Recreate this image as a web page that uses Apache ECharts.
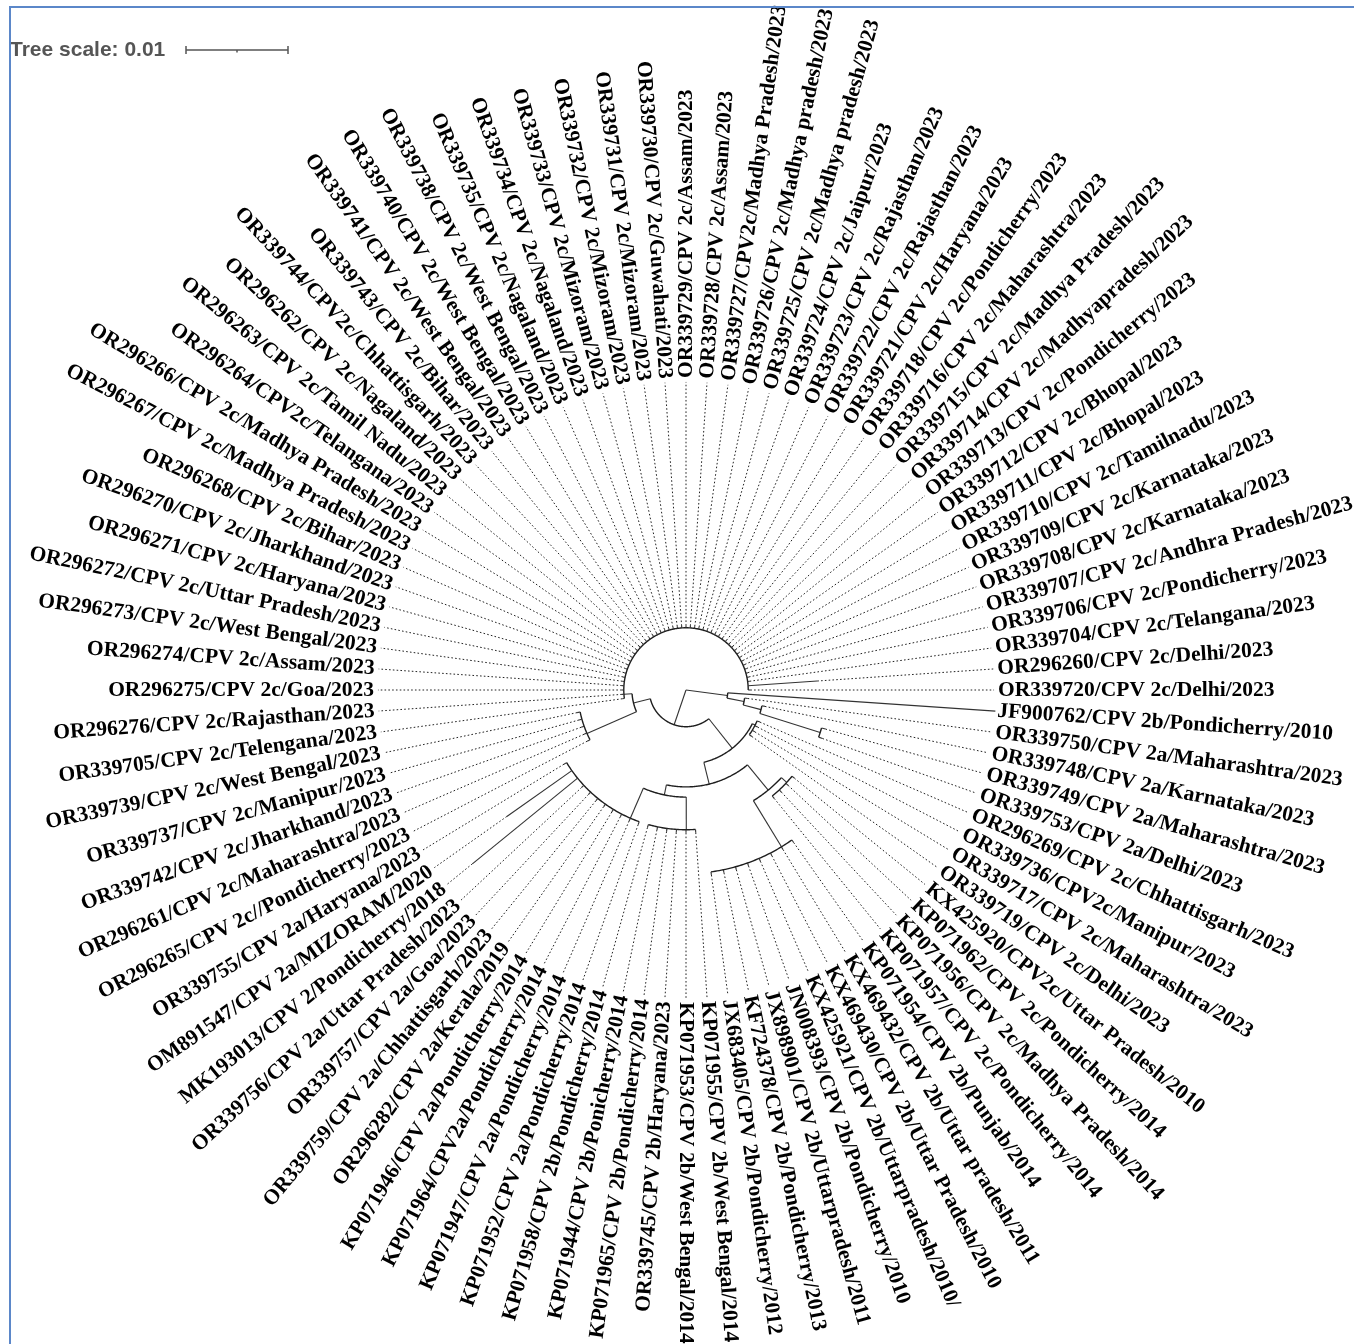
<!DOCTYPE html>
<html><head><meta charset="utf-8">
<script src="https://cdn.jsdelivr.net/npm/echarts/dist/echarts.min.js"></script>
<style>html,body{margin:0;padding:0;background:#fff}#c{width:1354px;height:1344px}</style>
</head><body><div id="c"></div>
<script>
// ---- leaves, clockwise from just below east (position 1..92) ----
const leafLabels = [
"JF900762/CPV 2b/Pondicherry/2010","OR339750/CPV 2a/Maharashtra/2023","OR339748/CPV 2a/Karnataka/2023",
"OR339749/CPV 2a/Maharashtra/2023","OR339753/CPV 2a/Delhi/2023","OR296269/CPV 2c/Chhattisgarh/2023",
"OR339736/CPV2c/Manipur/2023","OR339717/CPV 2c/Maharashtra/2023","OR339719/CPV 2c/Delhi/2023",
"KX425920/CPV2c/Uttar Pradesh/2010","KP071962/CPV 2c/Pondicherry/2014","KP071956/CPV 2c/Madhya Pradesh/2014",
"KP071957/CPV 2c/Pondicherry/2014","KP071954/CPV 2b/Punjab/2014","KX469432/CPV 2b/Uttar pradesh/2011",
"KX469430/CPV 2b/Uttar Pradesh/2010","KX425921/CPV 2b/Uttarpradesh/2010/","JN008393/CPV 2b/Pondicherry/2010",
"JX898901/CPV 2b/Uttarpradesh/2011","KF724378/CPV 2b/Pondicherry/2013","JX683405/CPV 2b/Pondicherry/2012",
"KP071955/CPV 2b/West Bengal/2014","KP071953/CPV 2b/West Bengal/2014","OR339745/CPV 2b/Haryana/2023",
"KP071965/CPV 2b/Pondicherry/2014","KP071944/CPV 2b/Ponicherry/2014","KP071958/CPV 2b/Pondicherry/2014",
"KP071952/CPV 2a/Pondicherry/2014","KP071947/CPV 2a/Pondicherry/2014","KP071964/CPV2a/Pondicherry/2014",
"KP071946/CPV 2a/Pondicherry/2014","OR296282/CPV 2a/Kerala/2019","OR339759/CPV 2a/Chhattisgarh/2023",
"OR339757/CPV 2a/Goa/2023","OR339756/CPV 2a/Uttar Pradesh/2023","MK193013/CPV 2/Pondicherry/2018",
"OM891547/CPV 2a/MIZORAM/2020","OR339755/CPV 2a/Haryana/2023","OR296265/CPV 2c//Pondicherry/2023",
"OR296261/CPV 2c/Maharashtra/2023","OR339742/CPV 2c/Jharkhand/2023","OR339737/CPV 2c/Manipur/2023",
"OR339739/CPV 2c/West Bengal/2023","OR339705/CPV 2c/Telengana/2023","OR296276/CPV 2c/Rajasthan/2023",
"OR296275/CPV 2c/Goa/2023","OR296274/CPV 2c/Assam/2023","OR296273/CPV 2c/West Bengal/2023",
"OR296272/CPV 2c/Uttar Pradesh/2023","OR296271/CPV 2c/Haryana/2023","OR296270/CPV 2c/Jharkhand/2023",
"OR296268/CPV 2c/Bihar/2023","OR296267/CPV 2c/Madhya Pradesh/2023","OR296266/CPV 2c/Madhya Pradesh/2023",
"OR296264/CPV2c/Telangana/2023","OR296263/CPV 2c/Tamil Nadu/2023","OR296262/CPV 2c/Nagaland/2023",
"OR339744/CPV2c/Chhattisgarh/2023","OR339743/CPV 2c/Bihar/2023","OR339741/CPV 2c/West Bengal/2023",
"OR339740/CPV 2c/West Bengal/2023","OR339738/CPV 2c/West Bengal/2023","OR339735/CPV 2c/Nagaland/2023",
"OR339734/CPV 2c/Nagaland/2023","OR339733/CPV 2c/Mizoram/2023","OR339732/CPV 2c/Mizoram/2023",
"OR339731/CPV 2c/Mizoram/2023","OR339730/CPV 2c/Guwahati/2023","OR339729/CPV 2c/Assam/2023",
"OR339728/CPV 2c/Assam/2023","OR339727/CPV2c/Madhya Pradesh/2023","OR339726/CPV 2c/Madhya pradesh/2023",
"OR339725/CPV 2c/Madhya pradesh/2023","OR339724/CPV 2c/Jaipur/2023","OR339723/CPV 2c/Rajasthan/2023",
"OR339722/CPV 2c/Rajasthan/2023","OR339721/CPV 2c/Haryana/2023","OR339718/CPV 2c/Pondicherry/2023",
"OR339716/CPV 2c/Maharashtra/2023","OR339715/CPV 2c/Madhya Pradesh/2023","OR339714/CPV 2c/Madhyapradesh/2023",
"OR339713/CPV 2c/Pondicherry/2023","OR339712/CPV 2c/Bhopal/2023","OR339711/CPV 2c/Bhopal/2023",
"OR339710/CPV 2c/Tamilnadu/2023","OR339709/CPV 2c/Karnataka/2023","OR339708/CPV 2c/Karnataka/2023",
"OR339707/CPV 2c/Andhra Pradesh/2023","OR339706/CPV 2c/Pondicherry/2023","OR339704/CPV 2c/Telangana/2023",
"OR296260/CPV 2c/Delhi/2023","OR339720/CPV 2c/Delhi/2023"
];

// ---- internal nodes (branch lengths in substitutions/site) ----
const nodeIds    = ['root','L1','L2','L3','L4','N1','N9','N7','N10','N2','G7','N3','N4','G14','N5','N8','G2b','N6'];
const nodeParent = [null,'root','L1','L2','L3','root','N1','N9','N9','N1','N2','N2','N3','N4','N4','N3','N8','N8'];
const nodeBranch = [0,0.0041,0.0017,0.0018,0.0062,0.0036,0.0017,0.0053,0.0008,0.0037,0.0003,0.0022,0.0032,0.0007,0.0053,0.0010,0.0032,0.0032];
// clades resolved as ladders (zero-length internal edges), which sets where their stem attaches
const combNodes = ['N7','N10','G7','G14','N5','G2b','N6'];

// ---- parent node and branch length of each leaf ----
const leafParent = [
'L1','L2','L3','L4','L4','G7','G7','G7','G7',
'G14','G14','G14','G14',
'N5','N5','N5','N5','N5','N5','N5','N5',
'G2b','G2b','G2b','G2b','G2b','G2b',
'N6','N6','N6','N6','N6','N6','N6','N6','N6','N6','N6',
'N7','N7','N7','N7','N7'
].concat(new Array(49).fill('N10'));
const leafBranch = [
0.0263,0.0003,0.0003,0.0004,0.0004,0.0003,0.0003,0.0003,0.0003,
0.0003,0.0003,0.0003,0.0003,
0.0003,0.0003,0.0003,0.0003,0.0003,0.0003,0.0003,0.0003,
0.0003,0.0003,0.0003,0.0003,0.0003,0.0003,
0.0003,0.0003,0.0003,0.0003,0.0003,0.0003,0.0003,0.0003,0.0133,0.0078,0.0003,
0.0003,0.0003,0.0003,0.0003,0.0003
].concat(new Array(47).fill(0.0002), [0.0068, 0.0002]);

const scaleValue = 0.01;           // tree scale bar
const labelGap = 0.0002;           // label starts just beyond longest tip

// ---- build geometry from tree arrays ----
const N = leafLabels.length;
const depth = {}, angle = {}, kids = {};
nodeIds.forEach(id => kids[id] = []);
nodeIds.forEach((id, i) => { if (nodeParent[i]) kids[nodeParent[i]].push({type:'node', id}); });
leafLabels.forEach((l, i) => kids[leafParent[i]].push({type:'leaf', i}));
function setDepth(id, d) {
  depth[id] = d;
  kids[id].forEach(k => {
    if (k.type === 'node') setDepth(k.id, d + nodeBranch[nodeIds.indexOf(k.id)]);
  });
}
setDepth('root', 0);
const leafDepth = leafLabels.map((l, i) => depth[leafParent[i]] + leafBranch[i]);
const leafAngle = leafLabels.map((l, i) => i + 1);
function childAngle(k) { return k.type === 'leaf' ? leafAngle[k.i] : angle[k.id]; }
function setAngle(id) {
  kids[id].forEach(k => { if (k.type === 'node') setAngle(k.id); });
  const as = kids[id].map(childAngle).sort((a, b) => a - b);
  if (combNodes.indexOf(id) >= 0) {
    let A = as[as.length - 1];
    for (let k = as.length - 2; k >= 0; k--) A = (as[k] + A) / 2;
    angle[id] = A;
  } else angle[id] = (as[0] + as[as.length - 1]) / 2;
}
setAngle('root');
const maxTip = Math.max(...leafDepth);
const labelR = maxTip + labelGap;

const segs = []; // [kind, r0, r1, a0, a1]  kind 0 radial, 1 arc, 2 dotted
nodeIds.forEach(id => {
  const as = kids[id].map(childAngle);
  if (as.length > 1 && depth[id] > 0) segs.push([1, depth[id], depth[id], Math.min(...as), Math.max(...as)]);
  kids[id].forEach(k => {
    if (k.type === 'node') segs.push([0, depth[id], depth[k.id], angle[k.id], angle[k.id]]);
    else {
      segs.push([0, depth[id], leafDepth[k.i], leafAngle[k.i], leafAngle[k.i]]);
      if (labelR - 0.0004 - leafDepth[k.i] > 0.0002)
        segs.push([2, leafDepth[k.i], labelR - 0.0004, leafAngle[k.i], leafAngle[k.i]]);
    }
  });
});
const labelData = leafLabels.map((l, i) => [labelR, leafAngle[i], i]);

const chart = echarts.init(document.getElementById('c'), null, {renderer: 'canvas'});
const PX = 10200; // pixels per unit at polar radius 700
chart.setOption({
  animation: false,
  backgroundColor: '#fff',
  polar: { center: [686, 690], radius: 700 },
  angleAxis: { type: 'value', min: 0, max: N, startAngle: 0, clockwise: true,
    axisLine: {show: false}, axisTick: {show: false}, axisLabel: {show: false}, splitLine: {show: false} },
  radiusAxis: { type: 'value', min: 0, max: 700 / PX,
    axisLine: {show: false}, axisTick: {show: false}, axisLabel: {show: false}, splitLine: {show: false} },
  graphic: [
    { type: 'polyline', shape: { points: [[10, 1344], [10, 7], [1354, 7]] },
      style: { stroke: '#5b87c9', lineWidth: 2, fill: null }, z: 10 },
    { type: 'text', x: 10, y: 50, style: { text: 'Tree scale: 0.01', font: 'bold 21px "Liberation Sans", Arial, sans-serif',
      fill: '#555', verticalAlign: 'middle', align: 'left' } }
  ],
  series: [
    { type: 'custom', coordinateSystem: 'polar', data: segs, silent: true,
      renderItem: function (params, api) {
        const kind = api.value(0), r0 = api.value(1), r1 = api.value(2), a0 = api.value(3), a1 = api.value(4);
        if (kind === 1) {
          const pts = [], n = Math.max(2, Math.ceil((a1 - a0) * 6));
          for (let k = 0; k <= n; k++) pts.push(api.coord([r0, a0 + (a1 - a0) * k / n]));
          return { type: 'polyline', shape: { points: pts }, style: { stroke: '#1e1e1e', lineWidth: 1.4, fill: null } };
        }
        const p0 = api.coord([r0, a0]), p1 = api.coord([r1, a0]);
        return { type: 'line', shape: { x1: p0[0], y1: p0[1], x2: p1[0], y2: p1[1] },
          style: kind === 2 ? { stroke: '#222', lineWidth: 1, lineDash: [1.6, 2.2] }
                            : { stroke: '#333', lineWidth: 1.1 } };
      } },
    { type: 'custom', coordinateSystem: 'polar', data: labelData, silent: true,
      renderItem: function (params, api) {
        const p = api.coord([api.value(0), api.value(1)]);
        const c = api.coord([0, 0]);
        const th = Math.atan2(p[1] - c[1], p[0] - c[0]);
        let deg = th * 180 / Math.PI; if (deg < 0) deg += 360;
        const flip = deg > 90.5 && deg < 269.5;
        return { type: 'text', x: p[0], y: p[1], rotation: flip ? Math.PI - th : -th,
          style: { text: leafLabels[api.value(2)], font: 'bold 21.5px "Liberation Serif", "Times New Roman", serif',
            fill: '#000', align: flip ? 'right' : 'left', verticalAlign: 'middle' } };
      } },
    { type: 'custom', coordinateSystem: 'polar', data: [[0, 0]], silent: true,
      renderItem: function (params, api) {
        const a = api.coord([0, 0]), b = api.coord([scaleValue, 0]);
        const len = b[0] - a[0], x0 = 186, y0 = 50;
        const st = { stroke: '#555', lineWidth: 1.5 };
        return { type: 'group', children: [
          { type: 'line', shape: { x1: x0, y1: y0, x2: x0 + len, y2: y0 }, style: st },
          { type: 'line', shape: { x1: x0, y1: y0 - 4, x2: x0, y2: y0 + 4 }, style: st },
          { type: 'line', shape: { x1: x0 + len, y1: y0 - 4, x2: x0 + len, y2: y0 + 4 }, style: st },
          { type: 'line', shape: { x1: x0 + len / 2, y1: y0, x2: x0 + len / 2, y2: y0 + 2.5 }, style: st }
        ] };
      } }
  ]
});
</script></body></html>
